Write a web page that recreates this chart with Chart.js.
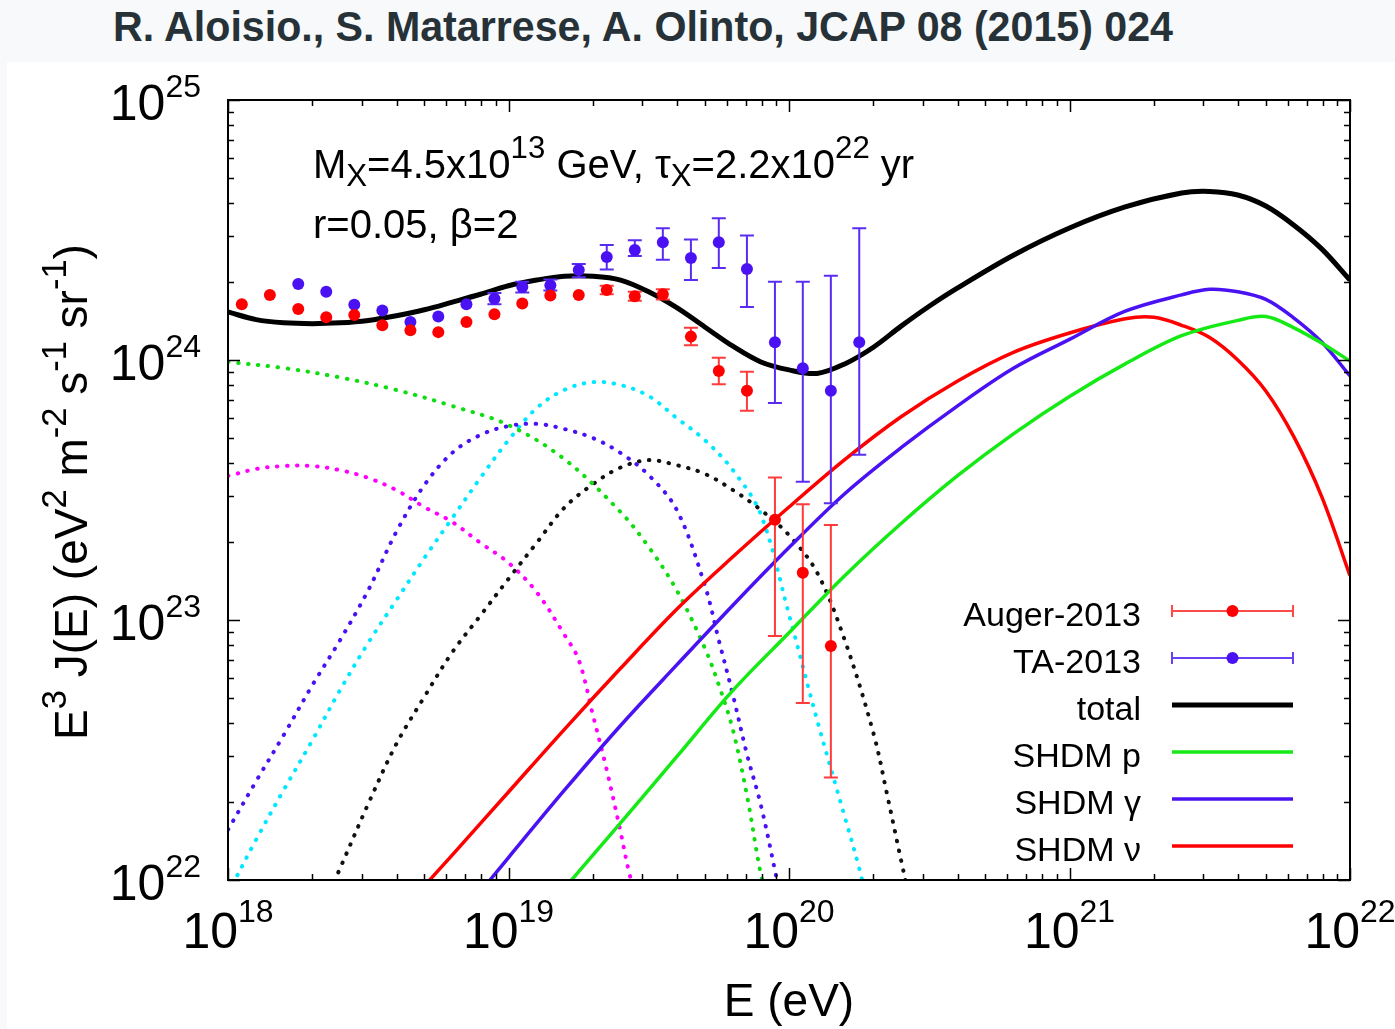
<!DOCTYPE html>
<html>
<head>
<meta charset="utf-8">
<script src="https://cdn.jsdelivr.net/npm/chart.js"></script>
<style>
  html, body { margin:0; padding:0; background:#f8f9fa; }
  #wrap { position:relative; width:1395px; height:1029px; overflow:hidden; }
  #panel { position:absolute; left:7px; top:62px; width:1388px; height:967px; background:#fff; }
  #title { position:absolute; left:113px; top:6px; font:bold 42px "Liberation Sans", Arial, sans-serif; line-height:42px;
           color:#263238; white-space:nowrap; transform-origin:left top; }
  canvas { position:absolute; left:0; top:0; }
</style>
</head>
<body>
<div id="wrap">
  <div id="panel"></div>
  <div id="title">R. Aloisio., S. Matarrese, A. Olinto, JCAP 08 (2015) 024</div>
  <canvas id="chart" width="1395" height="1029"></canvas>
</div>
<script>
//---------- data (E in eV, E^3 J(E) in eV^2 m^-2 s^-1 sr^-1) ----------
const augerE = [1.12e18,1.41e18,1.78e18,2.24e18,2.82e18,3.55e18,4.47e18,5.62e18,7.08e18,8.91e18,
                1.12e19,1.41e19,1.78e19,2.24e19,2.82e19,3.55e19,4.47e19,5.62e19,7.08e19,8.91e19,1.12e20,1.41e20];
const augerY = [1.64e24,1.78e24,1.57e24,1.46e24,1.49e24,1.36e24,1.30e24,1.28e24,1.40e24,1.50e24,
                1.65e24,1.77e24,1.78e24,1.86e24,1.76e24,1.79e24,1.23e24,9.08e23,7.62e23,2.43e23,1.52e23,7.94e22];
const augerLo = [null,null,null,null,null,null,null,null,null,null,null,null,null,
                 1.79e24,1.69e24,1.71e24,1.14e24,8.07e23,6.38e23,8.68e22,4.79e22,2.48e22];
const augerHi = [null,null,null,null,null,null,null,null,null,null,null,null,null,
                 1.93e24,1.83e24,1.87e24,1.33e24,1.02e24,9.02e23,3.53e23,2.79e23,2.32e23];

const taE = [1.78e18,2.24e18,2.82e18,3.55e18,4.47e18,5.62e18,7.08e18,8.91e18,1.12e19,1.41e19,
             1.78e19,2.24e19,2.82e19,3.55e19,4.47e19,5.62e19,7.08e19,8.91e19,1.12e20,1.41e20,1.78e20];
const taY = [1.96e24,1.83e24,1.63e24,1.55e24,1.40e24,1.47e24,1.64e24,1.72e24,1.91e24,1.94e24,
             2.22e24,2.49e24,2.65e24,2.84e24,2.47e24,2.84e24,2.24e24,1.17e24,9.29e23,7.62e23,1.17e24];
const taLo = [null,null,null,null,null,null,null,1.64e24,1.82e24,1.85e24,
              2.08e24,2.23e24,2.51e24,2.43e24,2.03e24,2.26e24,1.60e24,6.84e23,3.40e23,2.81e23,4.32e23];
const taHi = [null,null,null,null,null,null,null,1.81e24,2.00e24,2.04e24,
              2.34e24,2.77e24,2.89e24,3.21e24,2.91e24,3.51e24,3.01e24,2.00e24,2.00e24,2.11e24,3.21e24];

const totalE = [1e18,1.26e18,1.58e18,2e18,2.51e18,3.16e18,3.98e18,5.01e18,6.31e18,7.94e18,
                1e19,1.26e19,1.58e19,2e19,2.51e19,3.16e19,3.98e19,5.01e19,6.31e19,7.94e19,
                1e20,1.26e20,1.58e20,2e20,2.51e20,3.16e20,3.98e20,6.31e20,1e21,1.58e21,
                2.51e21,3.16e21,3.98e21,5.01e21,6.31e21,7.94e21,1e22];
const totalY = [1.53e24,1.43e24,1.39e24,1.38e24,1.39e24,1.42e24,1.48e24,1.56e24,1.67e24,1.79e24,
                1.93e24,2.03e24,2.10e24,2.10e24,2.03e24,1.83e24,1.59e24,1.34e24,1.13e24,9.83e23,
                9.16e23,8.88e23,9.66e23,1.12e24,1.35e24,1.61e24,1.89e24,2.53e24,3.22e24,3.88e24,
                4.39e24,4.45e24,4.31e24,3.91e24,3.30e24,2.67e24,2.03e24];

const pE = [1.58e19,2.51e19,3.98e19,6.31e19,1e20,1.58e20,2.51e20,3.98e20,6.31e20,1e21,1.58e21,2.51e21,3.98e21,5.01e21,6.31e21,7.94e21,1e22];
const pY = [9.27e21,1.66e22,2.98e22,5.36e22,8.93e22,1.48e23,2.35e23,3.58e23,5.20e23,7.24e23,9.66e23,1.24e24,1.42e24,1.47e24,1.33e24,1.16e24,9.91e23];

const gammaE = [7.94e18,1e19,1.58e19,2.51e19,3.98e19,6.31e19,1e20,1.58e20,2.51e20,3.98e20,6.31e20,1e21,1.58e21,2.51e21,3.16e21,3.98e21,5.01e21,6.31e21,7.94e21,1e22];
const gammaY = [9.0e21,1.22e22,2.21e22,3.93e22,6.72e22,1.14e23,1.90e23,3.06e23,4.60e23,6.65e23,9.29e23,1.20e24,1.54e24,1.78e24,1.87e24,1.83e24,1.71e24,1.45e24,1.17e24,8.68e23];

const nuE = [5.01e18,6.31e18,1e19,1.58e19,2.51e19,3.98e19,6.31e19,1e20,1.58e20,2.51e20,3.98e20,6.31e20,1e21,1.58e21,2e21,2.51e21,3.16e21,3.98e21,5.01e21,6.31e21,7.94e21,1e22];
const nuY = [9.48e21,1.25e22,2.18e22,3.79e22,6.52e22,1.10e23,1.75e23,2.72e23,4.14e23,6.05e23,8.29e23,1.07e24,1.27e24,1.44e24,1.46e24,1.36e24,1.22e24,1.0e24,7.60e23,5.06e23,2.97e23,1.48e23];

// dotted components
const greenDotE = [1e18,1.58e18,2.51e18,3.98e18,6.31e18,1e19,1.58e19,2.51e19,3.16e19,3.98e19,5.01e19,5.62e19,6.31e19,7.08e19,7.94e19,8.51e19];
const greenDotY = [9.83e23,9.31e23,8.57e23,7.67e23,6.65e23,5.62e23,4.16e23,2.60e23,1.91e23,1.30e23,7.80e22,5.62e22,3.78e22,2.12e22,1.05e22,8e21];

const violetDotE = [1e18,1.26e18,1.58e18,2e18,2.51e18,3.16e18,3.98e18,5.01e18,6.31e18,7.94e18,1e19,1.26e19,1.58e19,2e19,2.51e19,3.16e19,3.98e19,5.01e19,5.62e19,6.31e19,7.08e19,7.94e19,8.91e19,9.33e19];
const violetDotY = [1.56e22,2.4e22,3.61e22,5.62e22,8.37e22,1.30e23,2.18e23,3.3e23,4.4e23,5.15e23,5.57e23,5.68e23,5.43e23,5.01e23,4.39e23,3.61e23,2.65e23,1.36e23,8.37e22,5.15e22,3.05e22,1.94e22,1.09e22,8.5e21];

const cyanDotE = [1e18,1.26e18,1.58e18,2e18,2.51e18,3.16e18,3.98e18,5.01e18,6.31e18,7.94e18,1e19,1.26e19,1.58e19,2e19,2.51e19,3.16e19,3.98e19,5.01e19,6.31e19,7.94e19,1e20,1.26e20,1.58e20,1.78e20,1.91e20];
const cyanDotY = [8.9e21,1.43e22,2.22e22,3.45e22,5.38e22,8.16e22,1.19e23,1.73e23,2.47e23,3.52e23,4.92e23,6.53e23,7.67e23,8.22e23,8.01e23,7.27e23,5.98e23,4.92e23,3.77e23,2.54e23,1.05e23,4.12e22,1.75e22,1.11e22,8e21];

const blackDotE = [2.24e18,2.51e18,3.16e18,3.98e18,5.01e18,6.31e18,7.94e18,1e19,1.26e19,1.58e19,2e19,2.51e19,3.16e19,3.98e19,5.01e19,6.31e19,7.94e19,1e20,1.26e20,1.58e20,2e20,2.24e20,2.51e20,2.69e20];
const blackDotY = [8.4e21,1.11e22,1.96e22,3.33e22,5.06e22,7.53e22,1.04e23,1.44e23,1.98e23,2.70e23,3.33e23,3.86e23,4.12e23,3.94e23,3.65e23,3.16e23,2.65e23,2.12e23,1.52e23,8.37e22,3.67e22,2.12e22,1.19e22,8.5e21];

const magentaDotE = [1e18,1.26e18,1.58e18,2e18,2.51e18,3.16e18,3.98e18,5.01e18,6.31e18,7.94e18,1e19,1.26e19,1.58e19,1.78e19,2e19,2.24e19,2.51e19,2.69e19,2.82e19];
const magentaDotY = [3.58e23,3.81e23,3.91e23,3.91e23,3.77e23,3.52e23,3.16e23,2.72e23,2.38e23,1.98e23,1.66e23,1.28e23,8.8e22,7.02e22,4.31e22,2.65e22,1.53e22,1.07e22,9.1e21];

const xDecades = [18, 19, 20, 21, 22];
const yDecades = [22, 23, 24, 25];

//---------- styles ----------
const FONT = '"Liberation Sans", Arial, sans-serif';
const RED = '#ff0000', BLUE = '#4a12f2', GREEN = '#16ea16', CYAN = '#00e8ff', MAGENTA = '#ff00ff';

// fit the title to the width it has in the figure
const titleEl = document.getElementById('title');
titleEl.style.transform = 'scaleX(' + (1060 / titleEl.getBoundingClientRect().width) + ')';

const pts = (E, Y) => E.map((e, i) => ({x: e, y: Y[i]}));

function curve(label, E, Y, color, width, dotted, order) {
  return {
    label, data: pts(E, Y), showLine: true, borderColor: color, borderWidth: width,
    pointRadius: 0, tension: 0.35, clip: 0, order,
    borderDash: dotted ? [0.5, 9.5] : [], borderCapStyle: dotted ? 'round' : 'butt', borderJoinStyle: 'round'
  };
}
function points(label, E, Y, lo, hi, color, errColor) {
  return {
    label, data: pts(E, Y), showLine: false, pointRadius: 6, pointBorderWidth: 0,
    pointBackgroundColor: color, pointBorderColor: color, order: 0, errLo: lo, errHi: hi, errColor
  };
}

//---------- small rich-text helper: a^{sup} and a_{sub} ----------
function parseRich(str) {
  const parts = [];
  str.replace(/(\^|_)\{([^}]*)\}|([^^_]+)/g, (m, op, inner, plain) => {
    if (plain) parts.push({t: plain, s: 0});
    else parts.push({t: inner, s: op === '^' ? 1 : -1});
  });
  return parts;
}
function drawRich(ctx, str, x, y, size, opt) {
  const o = Object.assign({align: 'left', ratio: 0.78, sup: 0.5, sub: 0.12}, opt);
  const parts = parseRich(str);
  let w = 0;
  parts.forEach(p => { ctx.font = (p.s ? size * o.ratio : size) + 'px ' + FONT; w += ctx.measureText(p.t).width; });
  let cx = o.align === 'center' ? x - w / 2 : o.align === 'right' ? x - w : x;
  ctx.textAlign = 'left';
  ctx.textBaseline = 'alphabetic';
  parts.forEach(p => {
    ctx.font = (p.s ? size * o.ratio : size) + 'px ' + FONT;
    const dy = p.s === 1 ? -size * o.sup : p.s === -1 ? size * o.sub : 0;
    ctx.fillText(p.t, cx, y + dy);
    cx += ctx.measureText(p.t).width;
  });
}

//---------- error bars drawn under each point set ----------
const errorBars = {
  id: 'errorBars',
  beforeDatasetDraw(chart, args) {
    const ds = chart.data.datasets[args.index];
    if (!ds.errLo) return;
    const {ctx, chartArea: a} = chart;
    const xs = chart.scales.x, ys = chart.scales.y;
    ctx.save();
    ctx.beginPath(); ctx.rect(a.left, a.top, a.right - a.left, a.bottom - a.top); ctx.clip();
    ctx.strokeStyle = ds.errColor; ctx.lineWidth = 2;
    ds.data.forEach((p, i) => {
      if (ds.errLo[i] == null) return;
      const px = xs.getPixelForValue(p.x);
      const y1 = ys.getPixelForValue(ds.errLo[i]), y2 = ys.getPixelForValue(ds.errHi[i]);
      ctx.beginPath();
      ctx.moveTo(px, y1); ctx.lineTo(px, y2);
      ctx.moveTo(px - 7, y1); ctx.lineTo(px + 7, y1);
      ctx.moveTo(px - 7, y2); ctx.lineTo(px + 7, y2);
      ctx.stroke();
    });
    ctx.restore();
  }
};

//---------- frame, inward ticks, labels, titles, annotation, legend ----------
const decor = {
  id: 'decor',
  afterDraw(chart) {
    const {ctx, chartArea: a} = chart;
    const xs = chart.scales.x, ys = chart.scales.y;
    ctx.save();
    ctx.strokeStyle = '#000'; ctx.fillStyle = '#000';

    // ticks on all four sides, pointing in
    ctx.lineWidth = 1.5;
    ctx.beginPath();
    xDecades.forEach(d => {
      for (let k = 1; k <= (d === 22 ? 1 : 9); k++) {
        const px = Math.round(xs.getPixelForValue(k * Math.pow(10, d))) + 0.5;
        const len = k === 1 ? 12 : 6;
        ctx.moveTo(px, a.bottom); ctx.lineTo(px, a.bottom - len);
        ctx.moveTo(px, a.top); ctx.lineTo(px, a.top + len);
      }
    });
    yDecades.forEach(d => {
      for (let k = 1; k <= (d === 25 ? 1 : 9); k++) {
        const py = Math.round(ys.getPixelForValue(k * Math.pow(10, d))) + 0.5;
        const len = k === 1 ? 12 : 6;
        ctx.moveTo(a.left, py); ctx.lineTo(a.left + len, py);
        ctx.moveTo(a.right, py); ctx.lineTo(a.right - len, py);
      }
    });
    ctx.stroke();

    ctx.lineWidth = 2;
    ctx.strokeRect(a.left, a.top, a.right - a.left, a.bottom - a.top);

    // tick labels
    xDecades.forEach(d => {
      drawRich(ctx, '10^{' + d + '}', xs.getPixelForValue(Math.pow(10, d)), a.bottom + 68, 50, {align: 'center', ratio: 0.64, sup: 0.52});
    });
    yDecades.forEach(d => {
      drawRich(ctx, '10^{' + d + '}', a.left - 27, ys.getPixelForValue(Math.pow(10, d)) + 20, 50, {align: 'right', ratio: 0.64, sup: 0.46});
    });

    // axis titles
    drawRich(ctx, 'E (eV)', (a.left + a.right) / 2, 1016, 46, {align: 'center'});
    ctx.save();
    ctx.translate(87, 492);
    ctx.rotate(-Math.PI / 2);
    drawRich(ctx, 'E^{3} J(E) (eV^{2} m^{-2} s^{-1} sr^{-1})', 0, 0, 46, {align: 'center', ratio: 0.75, sup: 0.45});
    ctx.restore();

    // model parameters
    drawRich(ctx, 'M_{X}=4.5x10^{13} GeV, τ_{X}=2.2x10^{22} yr', 313, 178, 40, {sup: 0.5, sub: 0.2});
    drawRich(ctx, 'r=0.05, β=2', 313, 238, 40);

    // legend
    const rows = [
      {label: 'Auger-2013', kind: 'err', color: RED, err: '#ff4a4a'},
      {label: 'TA-2013', kind: 'err', color: BLUE, err: '#6a40f2'},
      {label: 'total', kind: 'line', color: '#000', width: 5},
      {label: 'SHDM p', kind: 'line', color: GREEN, width: 3.5},
      {label: 'SHDM γ', kind: 'line', color: BLUE, width: 3.5},
      {label: 'SHDM ν', kind: 'line', color: RED, width: 3.5}
    ];
    const x0 = 1172, x1 = 1293;
    rows.forEach((r, i) => {
      const y = 611 + i * 47;
      ctx.fillStyle = '#000';
      ctx.font = '34px ' + FONT;
      ctx.textAlign = 'right';
      ctx.textBaseline = 'alphabetic';
      ctx.fillText(r.label, 1141, y + 15);
      if (r.kind === 'err') {
        ctx.strokeStyle = r.err; ctx.lineWidth = 2;
        ctx.beginPath();
        ctx.moveTo(x0, y); ctx.lineTo(x1, y);
        ctx.moveTo(x0, y - 6); ctx.lineTo(x0, y + 6);
        ctx.moveTo(x1, y - 6); ctx.lineTo(x1, y + 6);
        ctx.stroke();
        ctx.fillStyle = r.color;
        ctx.beginPath(); ctx.arc((x0 + x1) / 2, y, 6, 0, Math.PI * 2); ctx.fill();
      } else {
        ctx.strokeStyle = r.color; ctx.lineWidth = r.width;
        ctx.beginPath(); ctx.moveTo(x0, y); ctx.lineTo(x1, y); ctx.stroke();
      }
    });
    ctx.restore();
  }
};

new Chart(document.getElementById('chart'), {
  type: 'scatter',
  data: {
    datasets: [
      points('Auger-2013', augerE, augerY, augerLo, augerHi, RED, '#ff3b3b'),
      points('TA-2013', taE, taY, taLo, taHi, BLUE, '#5a2cf2'),
      curve('total', totalE, totalY, '#000', 5, false, 1),
      curve('SHDM p', pE, pY, GREEN, 3.5, false, 2),
      curve('SHDM γ', gammaE, gammaY, BLUE, 3.5, false, 2),
      curve('SHDM ν', nuE, nuY, RED, 3.5, false, 2),
      curve('p dotted', greenDotE, greenDotY, '#10dd10', 4, true, 3),
      curve('violet dotted', violetDotE, violetDotY, BLUE, 4, true, 3),
      curve('cyan dotted', cyanDotE, cyanDotY, CYAN, 4, true, 3),
      curve('black dotted', blackDotE, blackDotY, '#111', 4, true, 3),
      curve('magenta dotted', magentaDotE, magentaDotY, MAGENTA, 4, true, 3)
    ]
  },
  options: {
    responsive: false,
    animation: false,
    devicePixelRatio: 1,
    elements: {line: {capBezierPoints: false}},
    layout: {padding: {top: 100, right: 45, left: 0, bottom: 0}},
    plugins: {legend: {display: false}, tooltip: {enabled: false}},
    scales: {
      x: {
        type: 'logarithmic', min: 1e18, max: 1e22,
        grid: {display: false}, border: {display: false}, ticks: {display: false},
        afterFit(s) { s.height = 149; }
      },
      y: {
        type: 'logarithmic', min: 1e22, max: 1e25,
        grid: {display: false}, border: {display: false}, ticks: {display: false},
        afterFit(s) { s.width = 228; }
      }
    }
  },
  plugins: [errorBars, decor]
});
</script>
</body>
</html>
